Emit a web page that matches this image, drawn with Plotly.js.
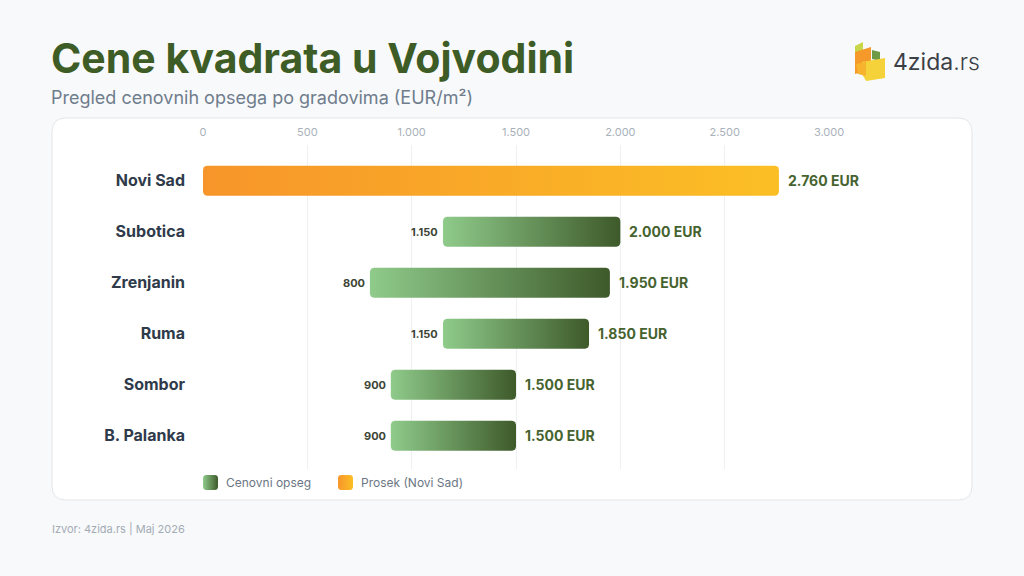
<!DOCTYPE html>
<html>
<head>
<meta charset="utf-8">
<script src="https://cdn.plot.ly/plotly-3.0.1.min.js"></script>
<style>
  html,body{margin:0;padding:0;background:#f8f9fb;}
  #chart{width:1024px;height:576px;}
</style>
</head>
<body>
<div id="chart"></div>
<script>
// ---- data ----
const cities = ['Novi Sad','Subotica','Zrenjanin','Ruma','Sombor','B. Palanka'];
const minPrice = [0, 1150, 800, 1150, 900, 900];
const maxPrice = [2760, 2000, 1950, 1850, 1500, 1500];
const showMinLabel = [false, true, true, true, true, true];
const xTicks = [0, 500, 1000, 1500, 2000, 2500, 3000];
const xTickText = ['0', '500', '1.000', '1.500', '2.000', '2.500', '3.000'];
const legendNames = ['Cenovni opseg', 'Prosek (Novi Sad)'];

// ---- layout geometry ----
const W_PAGE = 1024, H_PAGE = 576;
const L = 203, R = 829, T = 145, B = 500;       // full plot area (incl. legend strip)
const MAIN_B = 469;                              // bottom of the bar area
const PW = R - L, PH = B - T;
const XR = [0, 3000];
const YR = [5.65, -0.7];
const pxPerX = PW / (XR[1] - XR[0]);
const pxPerY = (MAIN_B - T) / (YR[0] - YR[1]);
const barHalf = 15 / pxPerY;
const corner = 4;

function fmt(v){ return v.toLocaleString('de-DE'); }
function px(x){ return (x - L) / PW; }
function py(y){ return (B - y) / PH; }

function roundedRectData(x0, x1, y0, y1, rx, ry){
  const xs = [], ys = [];
  const corners = [
    [x1 - rx, y0 + ry, -Math.PI/2, 0],
    [x1 - rx, y1 - ry, 0, Math.PI/2],
    [x0 + rx, y1 - ry, Math.PI/2, Math.PI],
    [x0 + rx, y0 + ry, Math.PI, 1.5*Math.PI]
  ];
  corners.forEach(([cx, cy, a0, a1]) => {
    for (let i = 0; i <= 5; i++){
      const a = a0 + (a1 - a0) * i / 5;
      xs.push(cx + rx * Math.cos(a));
      ys.push(cy + ry * Math.sin(a));
    }
  });
  xs.push(xs[0]); ys.push(ys[0]);
  return {xs, ys};
}

const GREEN_SCALE = [[0, '#8fcb8b'], [1, '#3e5a2a']];
const ORANGE_SCALE = [[0, '#f7952a'], [1, '#fbbf25']];

const traces = [];
cities.forEach((c, i) => {
  const isAvg = i === 0;
  const r = roundedRectData(minPrice[i], maxPrice[i], i - barHalf, i + barHalf,
                            corner / pxPerX, corner / pxPerY);
  traces.push({
    type: 'scatter', mode: 'lines',
    x: r.xs, y: r.ys, xaxis: 'x', yaxis: 'y',
    fill: 'toself',
    fillgradient: {type: 'horizontal', colorscale: isAvg ? ORANGE_SCALE : GREEN_SCALE},
    line: {width: 0, color: isAvg ? '#f8a22a' : '#6a9a5a'},
    name: c, showlegend: false, hoverinfo: 'skip'
  });
});

// legend swatches (pixel-unit helper axes x2/y2)
const legendSwatchX = [203, 338];
legendNames.forEach((n, k) => {
  const x0 = legendSwatchX[k];
  const r = roundedRectData(x0, x0 + 15, 475, 490, 3, 3);
  traces.push({
    type: 'scatter', mode: 'lines', x: r.xs, y: r.ys, xaxis: 'x2', yaxis: 'y2',
    fill: 'toself',
    fillgradient: {type: 'horizontal', colorscale: k === 0 ? GREEN_SCALE : ORANGE_SCALE},
    line: {width: 0}, name: n, showlegend: false, hoverinfo: 'skip'
  });
});

const annotations = [];
cities.forEach((c, i) => {
  annotations.push({
    x: maxPrice[i], y: i, xref: 'x', yref: 'y',
    text: '<b>' + fmt(maxPrice[i]) + ' EUR</b>',
    showarrow: false, xanchor: 'left', yanchor: 'middle', xshift: 7,
    font: {family: 'Inter, sans-serif', size: 14, color: '#46632f'}
  });
  if (showMinLabel[i]) {
    annotations.push({
      x: minPrice[i], y: i, xref: 'x', yref: 'y',
      text: '<b>' + fmt(minPrice[i]) + '</b>',
      showarrow: false, xanchor: 'right', yanchor: 'middle', xshift: -3,
      font: {family: 'Inter, sans-serif', size: 11, color: '#3d4535'}
    });
  }
});
legendNames.forEach((n, k) => {
  annotations.push({
    xref: 'paper', yref: 'paper', x: px(legendSwatchX[k] + 21), y: py(482.5),
    xanchor: 'left', yanchor: 'middle', text: n, showarrow: false,
    font: {family: 'Inter, sans-serif', size: 12, color: '#6b7684'}
  });
});

// titles & texts
annotations.push(
  {xref: 'paper', yref: 'paper', x: px(49), y: py(58), xanchor: 'left', yanchor: 'middle',
   text: '<b>Cene kvadrata u Vojvodini</b>', showarrow: false,
   font: {family: 'Inter, sans-serif', size: 41, color: '#3e5c25'}},
  {xref: 'paper', yref: 'paper', x: px(49), y: py(98), xanchor: 'left', yanchor: 'middle',
   text: 'Pregled cenovnih opsega po gradovima (EUR/m²)', showarrow: false,
   font: {family: 'Inter, sans-serif', size: 18, color: '#6f7d8c'}},
  {xref: 'paper', yref: 'paper', x: px(50), y: py(529), xanchor: 'left', yanchor: 'middle',
   text: 'Izvor: 4zida.rs | Maj 2026', showarrow: false,
   font: {family: 'Inter, sans-serif', size: 11, color: '#a3abb5'}},
  {xref: 'paper', yref: 'paper', x: px(891), y: py(62), xanchor: 'left', yanchor: 'middle',
   text: '4zida<span style="font-weight:300">.rs</span>', showarrow: false,
   font: {family: 'Inter, sans-serif', size: 23, color: '#3b4046'}}
);

// card + logo
function roundedPath(x0, y0, x1, y1, r){
  const P = (x, y) => px(x).toFixed(5) + ',' + py(y).toFixed(5);
  return 'M' + P(x0 + r, y0) + ' L' + P(x1 - r, y0) + ' Q' + P(x1, y0) + ' ' + P(x1, y0 + r) +
    ' L' + P(x1, y1 - r) + ' Q' + P(x1, y1) + ' ' + P(x1 - r, y1) +
    ' L' + P(x0 + r, y1) + ' Q' + P(x0, y1) + ' ' + P(x0, y1 - r) +
    ' L' + P(x0, y0 + r) + ' Q' + P(x0, y0) + ' ' + P(x0 + r, y0) + ' Z';
}
function poly(pts){
  return 'M' + pts.map(p => px(p[0]).toFixed(5) + ',' + py(p[1]).toFixed(5)).join(' L') + ' Z';
}
const shapes = [
  {type: 'path', xref: 'paper', yref: 'paper', layer: 'below',
   path: roundedPath(52, 118, 972, 500, 14),
   fillcolor: '#ffffff', line: {color: '#e3e6ea', width: 1}},
  {type: 'path', xref: 'paper', yref: 'paper', path: poly([[855,46],[863,42],[863,52],[855,56]]),
   fillcolor: '#c9d64a', line: {width: 0}},
  {type: 'path', xref: 'paper', yref: 'paper', path: poly([[855,52],[871,47],[871,70],[855,74]]),
   fillcolor: '#f59a2a', line: {width: 0}},
  {type: 'path', xref: 'paper', yref: 'paper', path: poly([[872,50],[880,52],[880,61],[872,59]]),
   fillcolor: '#6f9a45', line: {width: 0}},
  {type: 'path', xref: 'paper', yref: 'paper', path: poly([[862,62],[885,58],[885,78],[866,81],[862,74]]),
   fillcolor: '#f6d23a', line: {width: 0}},
  {type: 'path', xref: 'paper', yref: 'paper', path: poly([[856,64],[866,62],[866,76],[858,74]]),
   fillcolor: '#f7b22e', line: {width: 0}}
];

const mainDomain = [py(MAIN_B), 1];
const layout = {
  width: W_PAGE, height: H_PAGE, autosize: false,
  paper_bgcolor: '#f8f9fb', plot_bgcolor: 'rgba(0,0,0,0)',
  margin: {l: L, r: W_PAGE - R, t: T, b: H_PAGE - B, pad: 0},
  font: {family: 'Inter, sans-serif'},
  showlegend: false,
  xaxis: {
    range: XR, side: 'top', tickvals: xTicks, ticktext: xTickText, anchor: 'y',
    showgrid: true, gridcolor: '#eef1f4', gridwidth: 1, zeroline: false,
    showline: false, ticks: '', ticklabelstandoff: 6,
    tickfont: {size: 11, color: '#a9b1ba'}, fixedrange: true
  },
  yaxis: {
    range: YR, domain: mainDomain, anchor: 'x',
    tickvals: cities.map((c, i) => i), ticktext: cities.map(c => '<b>' + c + '</b>'),
    showgrid: false, zeroline: false, showline: false, ticks: '', ticklabelstandoff: 17,
    tickfont: {size: 16, color: '#2f3a4a'}, fixedrange: true
  },
  xaxis2: {range: [L, R], anchor: 'y2', visible: false, fixedrange: true},
  yaxis2: {range: [B, MAIN_B], domain: [0, py(MAIN_B)], anchor: 'x2', visible: false, fixedrange: true},
  annotations: annotations,
  shapes: shapes
};

Plotly.newPlot('chart', traces, layout, {displayModeBar: false, staticPlot: true});
</script>
</body>
</html>
